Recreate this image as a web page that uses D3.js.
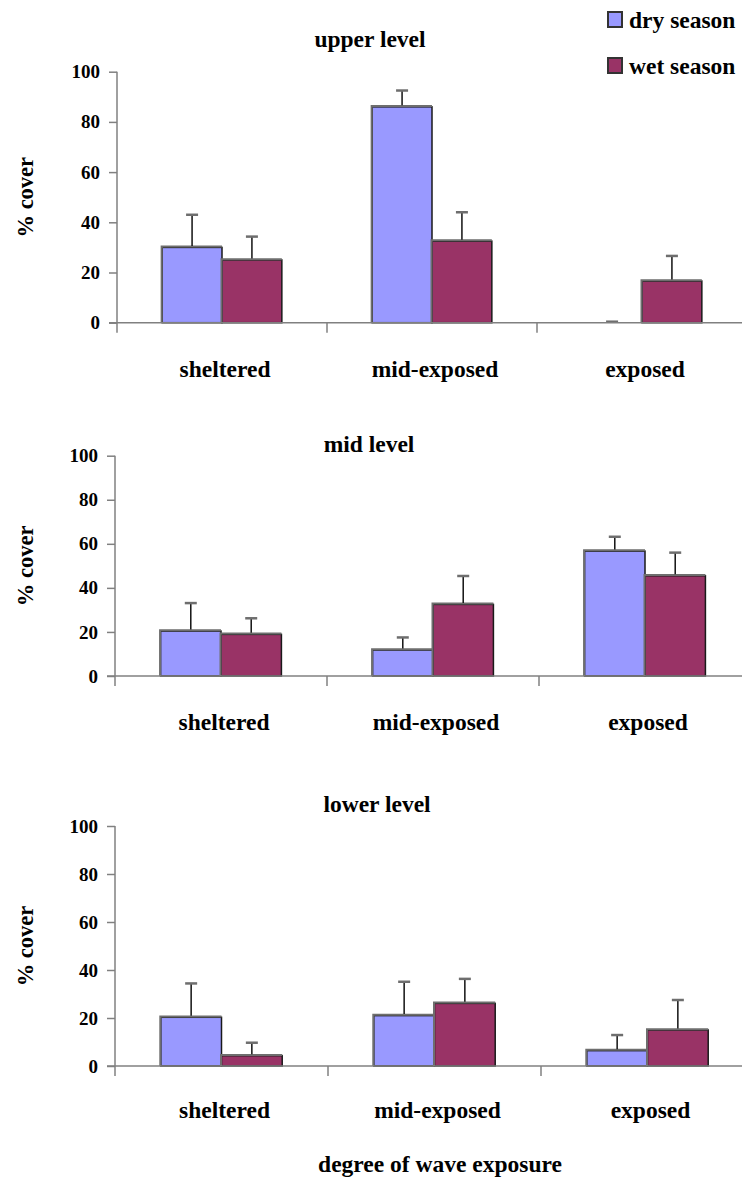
<!DOCTYPE html>
<html><head><meta charset="utf-8">
<script src="https://cdn.jsdelivr.net/npm/d3@7"></script>
<style>body{margin:0;background:#fff}svg{display:block}</style>
</head><body><svg id="c" width="742" height="1178"></svg>
<script>
const categories = ["sheltered", "mid-exposed", "exposed"];
const seriesNames = ["dry season", "wet season"];
const levels = ["upper level", "mid level", "lower level"];
const yTicks = [0, 20, 40, 60, 80, 100];
const upperDry = [30, 86, 0];
const upperDryErr = [13, 6.5, 0.4];
const upperWet = [25, 32.5, 16.6];
const upperWetErr = [9.3, 11.5, 10];
const midDry = [20.4, 11.8, 56.7];
const midDryErr = [12.7, 5.7, 6.5];
const midWet = [18.9, 32.5, 45.5];
const midWetErr = [7.3, 12.9, 10.5];
const lowerDry = [20.3, 21, 6.4];
const lowerDryErr = [14.1, 14.1, 6.5];
const lowerWet = [4.3, 26.1, 15];
const lowerWetErr = [5.4, 10.2, 12.5];
const xTitle = "degree of wave exposure";
const yTitle = "% cover";

const FONT = "Liberation Serif";
const colors = {"dry season": "#9999FF", "wet season": "#993366"};
const panelData = [
  {dry: upperDry, dryErr: upperDryErr, wet: upperWet, wetErr: upperWetErr},
  {dry: midDry, dryErr: midDryErr, wet: midWet, wetErr: midWetErr},
  {dry: lowerDry, dryErr: lowerDryErr, wet: lowerWet, wetErr: lowerWetErr}
];
const layout = [
  {top: 71.7, bottom: 322.7, x0: 117, x1: 747, titleX: 370, titleY: 47, catY: 377},
  {top: 455.7, bottom: 676, x0: 115, x1: 751, titleX: 369, titleY: 452, catY: 730},
  {top: 826, bottom: 1066, x0: 115, x1: 754, titleX: 377, titleY: 812, catY: 1118}
];

const svg = d3.select("#c");
function txt(sel, size) {
  return sel.attr("font-family", FONT).attr("font-weight", "bold").attr("font-size", size).attr("fill", "#000");
}

layout.forEach((L, i) => {
  const P = panelData[i];
  const g = svg.append("g");
  const y = d3.scaleLinear().domain([0, 100]).range([L.bottom, L.top]);
  const x = d3.scaleBand().domain(categories).range([L.x0, L.x1]);
  const groupW = x.bandwidth() * 0.57;
  const xs = d3.scaleBand().domain(seriesNames).range([0, groupW]);

  const ya = g.append("g").attr("transform", `translate(${L.x0},0)`)
    .call(d3.axisLeft(y).tickValues(yTicks).tickSize(8).tickPadding(9));
  ya.attr("font-family", FONT).attr("font-size", 19);
  ya.select(".domain").remove();
  ya.selectAll(".tick line").attr("stroke", "#808080").attr("stroke-width", 1.5);
  txt(ya.selectAll(".tick text"), 19);
  g.append("line").attr("x1", L.x0).attr("x2", L.x0).attr("y1", L.top).attr("y2", L.bottom + 10)
    .attr("stroke", "#808080").attr("stroke-width", 1.5);

  const rows = [];
  categories.forEach((c, k) => {
    rows.push({cat: c, s: "dry season", v: P.dry[k], e: P.dryErr[k]});
    rows.push({cat: c, s: "wet season", v: P.wet[k], e: P.wetErr[k]});
  });
  const bx = d => x(d.cat) + (x.bandwidth() - groupW) / 2 + xs(d.s);
  const bw = xs.bandwidth();
  g.selectAll("rect.bar").data(rows).join("rect").attr("class", "bar")
    .attr("x", bx).attr("width", bw)
    .attr("y", d => y(d.v)).attr("height", d => y(0) - y(d.v))
    .attr("fill", d => colors[d.s]).attr("stroke", "#1a1a1a").attr("stroke-width", 1.5);
  // soft gray top and left edges
  const vis = rows.filter(d => d.v > 0);
  g.selectAll("path.edge").data(vis).join("path").attr("class", "edge")
    .attr("d", d => `M${bx(d) - 0.5},${y(0)}V${y(d.v) - 0.8}H${bx(d) + bw}`)
    .attr("fill", "none").attr("stroke", "#6e6e6e").attr("stroke-width", 2);

  g.selectAll("line.err").data(rows).join("line").attr("class", "err")
    .attr("x1", d => bx(d) + bw / 2).attr("x2", d => bx(d) + bw / 2)
    .attr("y1", d => y(d.v) - 1.5).attr("y2", d => y(d.v + d.e))
    .attr("stroke", "#111").attr("stroke-width", 1.5);
  g.selectAll("line.cap").data(rows).join("line").attr("class", "cap")
    .attr("x1", d => bx(d) + bw / 2 - 6).attr("x2", d => bx(d) + bw / 2 + 6)
    .attr("y1", d => y(d.v + d.e)).attr("y2", d => y(d.v + d.e))
    .attr("stroke", "#6e6e6e").attr("stroke-width", 2.5);

  g.append("line").attr("x1", L.x0 - 8).attr("x2", 742).attr("y1", y(0)).attr("y2", y(0))
    .attr("stroke", "#808080").attr("stroke-width", 1.5);
  g.selectAll("line.ctick").data(categories.slice(1)).join("line").attr("class", "ctick")
    .attr("x1", d => x(d)).attr("x2", d => x(d)).attr("y1", y(0)).attr("y2", y(0) + 10)
    .attr("stroke", "#808080").attr("stroke-width", 1.5);
  txt(g.selectAll("text.cat").data(categories).join("text").attr("class", "cat")
    .attr("x", d => x(d) + x.bandwidth() / 2 + 3).attr("y", L.catY)
    .attr("text-anchor", "middle").text(d => d), 23.5);

  txt(g.append("text").attr("x", L.titleX).attr("y", L.titleY).attr("text-anchor", "middle")
    .text(levels[i]), 23.5);
  txt(g.append("text").attr("transform", `translate(33,${(L.top + L.bottom) / 2}) rotate(-90)`)
    .attr("text-anchor", "middle").text(yTitle), 22.5);
});

txt(svg.append("text").attr("x", 440).attr("y", 1172).attr("text-anchor", "middle").text(xTitle), 23.5);

const leg = svg.append("g");
const legY = [11, 57];
seriesNames.forEach((s, i) => {
  leg.append("rect").attr("x", 608).attr("y", legY[i] + 1).attr("width", 14).attr("height", 15)
    .attr("fill", colors[s]).attr("stroke", "#333").attr("stroke-width", 2);
  txt(leg.append("text").attr("x", 629).attr("y", legY[i] + 17).text(s), 23.5);
});
</script></body></html>
